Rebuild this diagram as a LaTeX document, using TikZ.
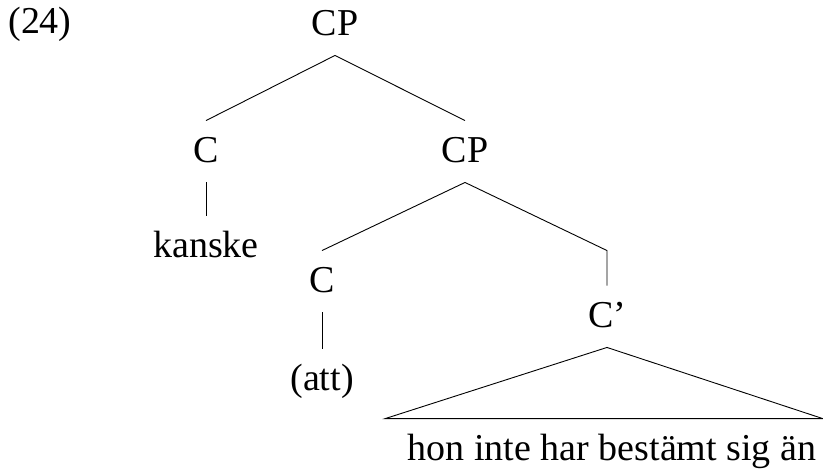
\documentclass[tikz,border=0pt]{standalone}
\usepackage{fontspec}
\setmainfont{Liberation Serif}
\begin{document}
\begin{tikzpicture}
	[x=1pt, y=-1pt, line width=0.9pt, main/.style = {font=\fontsize{38}{40}\selectfont, text height=26pt, text depth=5pt, inner xsep=0pt, inner ysep=15pt, anchor=base}]
	\useasboundingbox (0,0) rectangle (823,474);
	\node[main] (ex) at (40,33) {(24)};
	\node[main] (cp1) at (335,35) {CP};
	\node[main] (c1) at (206,162) {C};
	\node[main] (kanske) at (206,257) {kanske};
	\node[main] (cp2) at (465,162) {CP};
	\node[main] (c2) at (322,292) {C};
	\node[main] (att) at (322,390) {(att)};
	\node[main] (cbar) at (607,327) {C’};
	\node[main] (hon) at (612,460) {hon inte har bestämt sig än};
	\draw (cp1.south) -- (c1.north);
	\draw (cp1.south) -- (cp2.north);
	\draw (c1.south) -- (kanske.north);
	\draw (cp2.south) -- (c2.north);
	\draw (cp2.south) -- ([yshift=35pt]cbar.north) -- (cbar.north);
	\draw (c2.south) -- (att.north);
	\draw (cbar.south) -- ([xshift=-22pt]hon.north west) -- ([xshift=6pt]hon.north east) -- cycle;
\end{tikzpicture}
\end{document}
